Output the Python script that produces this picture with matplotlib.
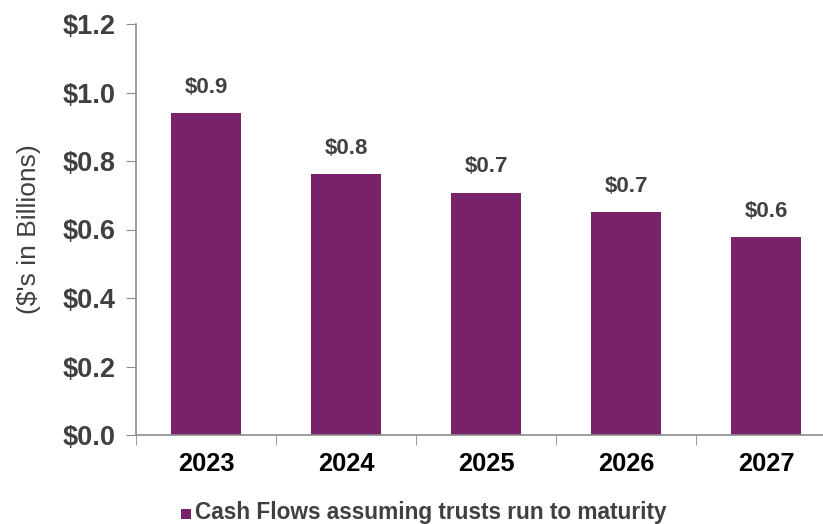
import numpy as np
import matplotlib.pyplot as plt

years = ["2023", "2024", "2025", "2026", "2027"]
cash_flows = [0.94, 0.762, 0.707, 0.651, 0.578]
bar_labels = ["$0.9", "$0.8", "$0.7", "$0.7", "$0.6"]
y_ticks = [0.0, 0.2, 0.4, 0.6, 0.8, 1.0, 1.2]

PURPLE = "#77226B"
GRAY = "#404040"
AXIS = "#8C8C8C"

plt.rcParams["font.family"] = ["Liberation Sans", "DejaVu Sans"]

fig = plt.figure(figsize=(8.23, 5.24), dpi=100)
# axes runs past the right edge, like the original slide crop
ax = fig.add_axes([136 / 823, 1 - 435 / 524, 700 / 823, 411 / 524])

x = np.arange(len(years))
bars = ax.bar(x, cash_flows, width=0.5, color=PURPLE,
              label="Cash Flows assuming trusts run to maturity")

for b, lab in zip(bars, bar_labels):
    ax.text(b.get_x() + b.get_width() / 2, b.get_height() + 0.045, lab,
            ha="center", va="bottom", fontsize=16, fontweight="bold", color=GRAY)

ax.set_xlim(-0.5, 4.5)
ax.set_ylim(0, 1.2)
ax.set_yticks(y_ticks)
ax.set_yticklabels([f"${v:.1f}" for v in y_ticks], fontsize=19.5,
                   fontweight="bold", color=GRAY)

ax.set_xticks(x)
ax.set_xticklabels(years, fontsize=18.3, fontweight="bold", color="black")
ax.set_xticks(np.arange(-0.5, 5, 1), minor=True)
ax.tick_params(axis="x", which="major", length=0, pad=12)
ax.tick_params(axis="x", which="minor", length=7, color=AXIS, direction="out")
ax.tick_params(axis="y", length=7, color=AXIS, pad=8)

for s in ["top", "right"]:
    ax.spines[s].set_visible(False)
for s in ["left", "bottom"]:
    ax.spines[s].set_color(AXIS)
    ax.spines[s].set_linewidth(1.2)

ax.set_ylabel("($'s in Billions)", fontsize=19, color=GRAY, labelpad=15)

leg = fig.legend(loc="center left", bbox_to_anchor=(181 / 823, 1 - 512 / 524),
                 frameon=False, handlelength=0.75, handleheight=0.75,
                 handletextpad=0.25, borderpad=0, borderaxespad=0)
for t in leg.get_texts():
    t.set_fontsize(16.3)
    t.set_fontweight("bold")
    t.set_color(GRAY)

fig.savefig("out.png", dpi=100)
